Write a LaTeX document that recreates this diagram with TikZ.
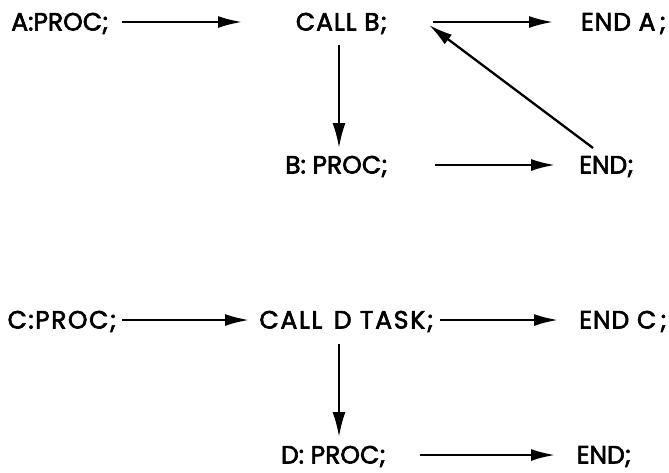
\documentclass[tikz,border=0pt]{standalone}
\usepackage{fontspec}
\setmainfont{Poppins}[FakeBold=2.5]
\usetikzlibrary{arrows.meta,calc}
\begin{document}
\begin{tikzpicture}[x=1pt,y=-1pt,
  lbl/.style={inner sep=0pt,text height=17pt,text depth=0pt,font=\fontsize{25}{25}\selectfont},
  harr/.style={line width=2.3pt,-{Latex[length=24pt,width=12pt]}},
  varr/.style={line width=2.3pt,-{Latex[length=25pt,width=13pt]}}]
\useasboundingbox (0,0) rectangle (669,472);
% row 1
\node[lbl] (aproc) at (60,22) {A:PROC;};
\node[lbl] (callb) at (341.5,22) {\addfontfeature{LetterSpace=4}CALL B;};
\node[lbl] (enda) at (623.5,22) {\addfontfeature{LetterSpace=4}END A\hspace{4pt};};
% row 2
\node[lbl] (procb) at (336.5,165) {B: PROC;};
\node[lbl] (endb) at (606.5,165) {END;};
% row 3
\node[lbl] (cproc) at (62,320) {\addfontfeature{LetterSpace=6}C:PROC;};
\node[lbl] (calld) at (346.5,320) {\addfontfeature{LetterSpace=7}CALL\hspace{3pt} D TASK;};
\node[lbl] (endc) at (623,320) {\addfontfeature{LetterSpace=4}END C\hspace{4pt};};
% row 4
\node[lbl] (dproc) at (333.5,455) {D: PROC;};
\node[lbl] (endd) at (604,455) {END;};
% connectors
\draw[harr] ($(aproc.center)+(62,0)$) -- ($(callb.center)+(-99.5,0)$);
\draw[harr] ($(callb.center)+(91.5,0)$) -- ($(enda.center)+(-70.5,0)$);
\draw[varr] ($(callb.center)+(-2.5,23)$) -- ($(procb.center)+(2.5,-17)$);
\draw[harr] ($(procb.center)+(98.5,0)$) -- ($(endb.center)+(-51.5,0)$);
\draw[harr] ($(endb.center)+(-13.5,-17)$) -- ($(callb.center)+(87.5,3)$);
\draw[harr] ($(cproc.center)+(60,0)$) -- ($(calld.center)+(-97.5,0)$);
\draw[harr] ($(calld.center)+(93.5,0)$) -- ($(endc.center)+(-65,0)$);
\draw[varr] ($(calld.center)+(-7.5,24)$) -- ($(dproc.center)+(5.5,-18)$);
\draw[harr] ($(dproc.center)+(86,0)$) -- ($(endd.center)+(-49,0)$);
\end{tikzpicture}
\end{document}
